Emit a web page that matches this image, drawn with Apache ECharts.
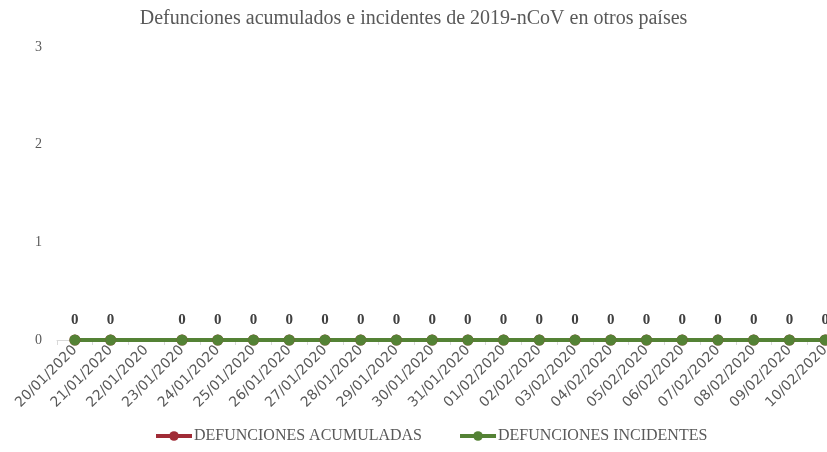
<!DOCTYPE html>
<html><head><meta charset="utf-8">
<script src="https://cdn.jsdelivr.net/npm/echarts@6/dist/echarts.min.js"></script>
<style>html,body{margin:0;padding:0;background:#fff}#c{width:827px;height:452px}</style>
</head><body><div id="c"></div>
<script>
const titleText = 'Defunciones acumulados e incidentes de 2019-nCoV en otros países';
const categories = ['20/01/2020','21/01/2020','22/01/2020','23/01/2020','24/01/2020','25/01/2020','26/01/2020','27/01/2020','28/01/2020','29/01/2020','30/01/2020','31/01/2020','01/02/2020','02/02/2020','03/02/2020','04/02/2020','05/02/2020','06/02/2020','07/02/2020','08/02/2020','09/02/2020','10/02/2020'];
const acumuladas = [0,0,null,0,0,0,0,0,0,0,0,0,0,0,0,0,0,0,0,0,0,0];
const incidentes = [0,0,null,0,0,0,0,0,0,0,0,0,0,0,0,0,0,0,0,0,0,0];
const seriesNames = ['DEFUNCIONES ACUMULADAS','DEFUNCIONES INCIDENTES'];

const chart = echarts.init(document.getElementById('c'), null, {renderer:'canvas'});
const serif = '"Liberation Serif", "DejaVu Serif", serif';
function mk(name, data, color, showLabel){
  return {
    name, type:'line', data, connectNulls:true,
    symbol:'circle', symbolSize:11,
    lineStyle:{width:4,color}, itemStyle:{color},
    label:{show:showLabel, position:'top', distance:7, fontFamily:serif, fontWeight:'bold', fontSize:15, color:'#404040'}
  };
}
chart.setOption({
  animation:false,
  title:{text:titleText, left:'center', top:4, textStyle:{fontFamily:serif, fontWeight:'normal', fontSize:20, color:'#595959'}},
  grid:{left:57, width:786, top:47, bottom:112, outerBoundsMode:'none', containLabel:false},
  legend:{bottom:3, left:149, itemWidth:36, itemHeight:12, itemGap:36,
    lineStyle:{width:4}, textStyle:{fontFamily:serif, fontSize:16, color:'#595959', padding:[0,0,0,-3]},
    data:seriesNames},
  xAxis:{type:'category', data:categories, boundaryGap:true,
    axisLine:{lineStyle:{color:'#d9d9d9', width:1}},
    axisTick:{show:true, lineStyle:{color:'#d9d9d9'}, length:5},
    axisLabel:{rotate:45, fontFamily:'"DejaVu Sans", sans-serif', fontSize:14, color:'#595959', margin:8, interval:0}},
  yAxis:{type:'value', min:0, max:3, interval:1,
    splitLine:{show:false}, axisLine:{show:false}, axisTick:{show:false},
    axisLabel:{fontFamily:serif, fontSize:14, color:'#595959', margin:15}},
  series:[mk(seriesNames[0], acumuladas, '#a02b36', false), mk(seriesNames[1], incidentes, '#548235', true)]
});
</script></body></html>
